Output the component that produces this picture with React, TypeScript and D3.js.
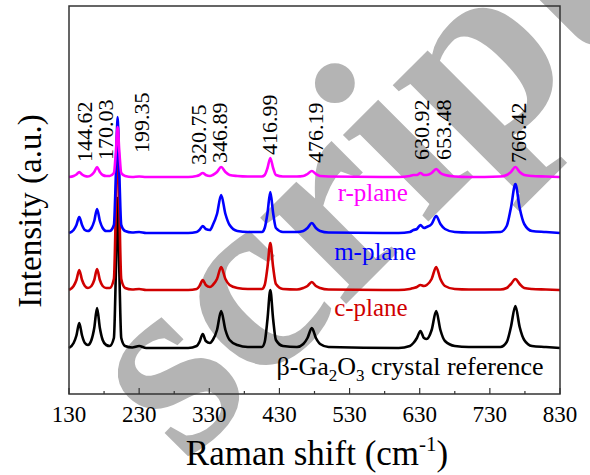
import * as d3 from "d3";

// Raman shift grid shared by all four spectra (cm^-1)
const shifts = [130, 136.6, 140.6, 144.6, 148.6, 152.6, 157, 162, 166, 170, 174, 178, 183, 188, 194, 196.8, 199.3, 201.8, 204.5, 210, 220, 230, 240, 300, 312, 316, 320.7, 325, 331, 335, 341, 346.9, 353, 359, 370, 385, 405, 409, 413, 417, 421, 425, 435, 455, 464, 470, 476.2, 482, 488, 500, 600, 616, 621, 626, 631, 636, 640, 647, 653.5, 659.5, 666, 680, 700, 745, 754, 760, 766.4, 772.5, 779, 790, 810, 830];

// intensities (a.u.), relative to each trace's own baseline
const crystalRef = [0, 5, 12.5, 25, 12.5, 5, 3, 8, 20, 40, 20, 8, 3, 2, 10, 75, 150, 75, 10, 2, 0.5, 2, 0, 0, 2, 6, 14, 7, 5, 8, 18, 37, 18, 8, 3, 1, 1, 6, 29, 58, 29, 8, 2, 1, 4, 10, 20, 10, 4, 1, 0, 2, 5, 10, 17, 10, 9, 18, 37, 18, 7, 2, 1, 1, 6, 21, 42, 21, 8, 2, 1, 0];
const cPlane = [0, 4, 10, 20, 10, 4, 2, 4, 10, 21, 10, 4, 2, 2, 11, 82, 165, 82, 11, 2, 0.5, 1, 0, 0, 1, 4, 10, 5, 3, 5, 11, 23, 11, 5, 2, 1, 1, 5, 23, 47, 23, 6, 1, 0.5, 2, 4, 8, 4, 2, 0.5, 0, 1, 2, 3, 5, 4, 5, 11, 23, 11, 4, 1, 0.5, 0.5, 2, 6, 11, 6, 2, 1, 0.5, 0];
const mPlane = [0, 3, 8, 16, 8, 3, 2, 5, 12, 24, 12, 5, 2, 2, 8, 58, 116, 58, 8, 2, 0.5, 1, 0, 0, 1, 3, 7, 4, 3, 8, 19, 38, 19, 8, 2, 1, 1, 5, 20, 41, 20, 5, 1, 1, 2, 5, 10, 5, 2, 0.5, 0, 1, 3, 4, 8, 5, 6, 9, 17, 9, 4, 1, 0.5, 1, 7, 25, 49, 25, 9, 2, 1, 0];
const rPlane = [0, 1, 2.5, 5, 2.5, 1, 0.5, 2, 5, 10, 5, 2, 1, 1, 4, 25, 50, 25, 4, 1, 0, 0.5, 0, 0, 1, 2, 4, 2, 1, 2, 5, 10, 5, 2, 1, 0.5, 0.5, 2, 9, 19, 9, 2, 0.5, 0.5, 1, 3, 6, 3, 1, 0.5, 0, 1, 2, 2, 4, 2, 2, 4, 8, 4, 2, 0.5, 0, 0.5, 2, 5, 10, 5, 2, 1, 0.5, 0];

// vertical stacking offsets (a.u.)
const offsets = [46, 104, 161, 217];
const traceColors = ["#000000", "#d00000", "#0000ff", "#ff00ff"];
const traceLabelX = [426, 508, 508, 513];
const traceLabelY = [19, 78, 134, 193];

// peak annotations
const peakLabels = ["144.62", "170.03", "199.35", "320.75", "346.89", "416.99", "476.19", "630.92", "653.48", "766.42"];
const peakLabelAt = [151.3, 181.2, 232.4, 315, 344.8, 416, 481.4, 632.2, 663.5, 770];
const peakLabelBase = [232, 234, 241, 229, 231, 239, 231, 234, 234, 231];

const majorTicks = [130, 230, 330, 430, 530, 630, 730, 830];
const minorTicks = [180, 280, 380, 480, 580, 680, 780];

const W = 590;
const H = 475;
const margin = { top: 6, right: 30, bottom: 81, left: 69 };
const serif = "'Liberation Serif', 'Times New Roman', serif";

export default function App() {
  const x = d3.scaleLinear().domain([130, 830]).range([margin.left, W - margin.right]);
  const y = d3.scaleLinear().domain([0, 388]).range([H - margin.bottom, margin.top]);

  const traces = [crystalRef, cPlane, mPlane, rPlane];
  const line = d3.line<[number, number]>()
    .x(d => x(d[0]))
    .y(d => y(d[1]))
    .curve(d3.curveMonotoneX);

  const bottom = H - margin.bottom;

  return (
    <svg width={W} height={H} style={{ position: "absolute", left: 0, top: 0, background: "#fff" }}
      fontFamily={serif}>
      {/* watermark */}
      <text transform="translate(185,465) rotate(-45)" fontSize={265} fontWeight="bold" fill="#b4b4b4">script</text>

      {traces.map((vals, i) => (
        <path key={i} fill="none" stroke={traceColors[i]} strokeWidth={2.6} strokeLinejoin="round"
          d={line(shifts.map((s, j) => [s, vals[j] + offsets[i]] as [number, number])) || ""} />
      ))}

      {/* frame */}
      <rect x={margin.left} y={margin.top} width={W - margin.left - margin.right}
        height={bottom - margin.top} fill="none" stroke="#333" strokeWidth={1.5} />
      {majorTicks.map(t => (
        <line key={t} x1={x(t)} x2={x(t)} y1={bottom} y2={bottom - 6} stroke="#333" strokeWidth={1.2} />
      ))}
      {minorTicks.map(t => (
        <line key={t} x1={x(t)} x2={x(t)} y1={bottom} y2={bottom - 3} stroke="#333" strokeWidth={1.2} />
      ))}
      {majorTicks.map(t => (
        <text key={t} x={x(t)} y={422} textAnchor="middle" fontSize={23}>{t}</text>
      ))}

      {/* peak labels */}
      {peakLabels.map((p, i) => (
        <text key={p} transform={`translate(${x(peakLabelAt[i])},${y(peakLabelBase[i])}) rotate(-90)`}
          dy="0.35em" fontSize={22}>{p}</text>
      ))}

      {/* trace labels */}
      <text x={x(traceLabelX[0])} y={y(traceLabelY[0])} fontSize={26} fill={traceColors[0]}>
        β-Ga<tspan fontSize={17} dy={6}>2</tspan><tspan dy={-6}>O</tspan><tspan fontSize={17} dy={6}>3</tspan><tspan dy={-6}> crystal reference</tspan>
      </text>
      {["c-plane", "m-plane", "r-plane"].map((n, k) => (
        <text key={n} x={x(traceLabelX[k + 1])} y={y(traceLabelY[k + 1])} fontSize={25} fill={traceColors[k + 1]}>{n}</text>
      ))}

      {/* axis titles */}
      <text x={317} y={465} textAnchor="middle" fontSize={35}>
        Raman shift (cm<tspan fontSize={21} dy={-14}>-1</tspan><tspan dy={14}>)</tspan>
      </text>
      <text transform="translate(41,211) rotate(-90)" textAnchor="middle" fontSize={33}>Intensity (a.u.)</text>
    </svg>
  );
}
